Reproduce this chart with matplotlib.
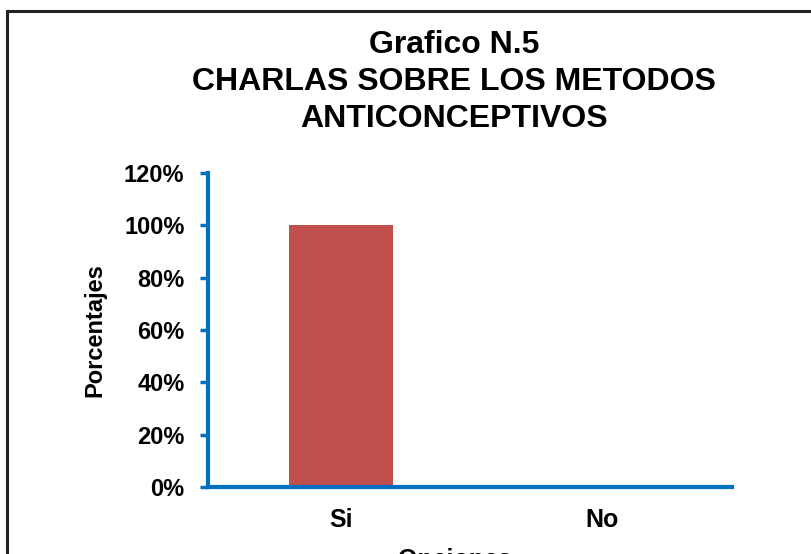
import matplotlib.pyplot as plt
from matplotlib.patches import Rectangle
from matplotlib.ticker import PercentFormatter

categorias = ['Si', 'No']
porcentajes = [1.00, 0.0]
yticks = [0, 0.2, 0.4, 0.6, 0.8, 1.0, 1.2]
titulo = ['Grafico N.5', 'CHARLAS SOBRE LOS METODOS', 'ANTICONCEPTIVOS']

plt.rcParams['font.family'] = ['Liberation Sans', 'DejaVu Sans']
plt.rcParams['font.weight'] = 'bold'

W, H = 811, 554
fig = plt.figure(figsize=(W / 100, H / 100), dpi=100)
fig.patch.set_facecolor('white')

# outer frame (cut off on right and bottom in the original)
fig.patches.append(Rectangle((6.5 / W, -0.2), 2, (H - 11.5) / H + 0.2,
                             transform=fig.transFigure, fill=False,
                             edgecolor='#222222', linewidth=2.2))

ax = fig.add_axes([208 / W, (H - 487) / H, (732 - 208) / W, (487 - 173) / H])
x = list(range(len(categorias)))
ax.bar(x, porcentajes, width=0.40, color='#C0504D')
ax.set_xlim(-0.51, 1.5)
ax.set_ylim(0, 1.2)
ax.set_yticks(yticks)
ax.yaxis.set_major_formatter(PercentFormatter(1.0, decimals=0))
ax.set_xticks(x)
ax.set_xticklabels(categorias)

blue = '#0070C0'
for s in ['top', 'right']:
    ax.spines[s].set_visible(False)
for s in ['left', 'bottom']:
    ax.spines[s].set_color(blue)
    ax.spines[s].set_linewidth(3)
ax.tick_params(axis='y', direction='out', length=6, width=2.5, color=blue,
               labelsize=17, pad=11)
ax.tick_params(axis='x', length=0, labelsize=18, pad=15)
for lbl in ax.get_xticklabels() + ax.get_yticklabels():
    lbl.set_fontweight('bold')

fig.text(95 / W, (H - 330) / H, 'Porcentajes', rotation=90, ha='center',
         va='center', fontsize=17, fontweight='bold')

for txt, yc in zip(titulo, [45, 82, 119]):
    fig.text(454 / W, (H - yc) / H, txt, ha='center', va='center',
             fontsize=23, fontweight='bold')

fig.text(455 / W, (H - 548) / H, 'Opciones', ha='center', va='top',
         fontsize=18, fontweight='bold')

fig.savefig('out.png', dpi=100)
